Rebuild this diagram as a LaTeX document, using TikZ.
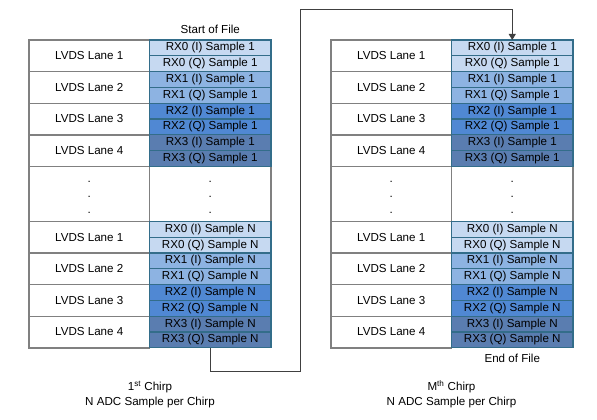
\documentclass[tikz,border=0pt]{standalone}
\usepackage{fontspec}
\setmainfont{Liberation Sans}
\usetikzlibrary{arrows.meta}
\definecolor{c0}{HTML}{C6D9F1}
\definecolor{c1}{HTML}{8DB3E2}
\definecolor{c2}{HTML}{5088D3}
\definecolor{c3}{HTML}{5A7DB0}
\definecolor{cellborder}{HTML}{336D8A}
\definecolor{laneborder}{HTML}{808080}
\definecolor{wire}{HTML}{404040}
\newcommand\lanegroup[4]{%
  \foreach \k/\col in {0/c0,1/c1,2/c2,3/c3}{
    \pgfmathsetmacro\yy{#3+\k*31.6}
    \pgfmathtruncatemacro\ln{\k+1}
    \node[lanebox] (#1lane\k) at (#2,\yy) {LVDS Lane \ln};
    \node[samplebox, fill=\col] (#1rx\k I) at (#2+120.5,\yy) {RX\k{} (I) Sample #4};
    \node[samplebox, fill=\col] (#1rx\k Q) at (#2+120.5,\yy+15.8) {RX\k{} (Q) Sample #4};
  }}
\begin{document}
\begin{tikzpicture}[x=1pt,y=-1pt,
  font=\fontsize{11.6}{13.8}\selectfont,
  lanebox/.style={draw=laneborder, fill=white, line width=1.4pt, minimum width=120.5pt,
    minimum height=31.6pt, inner sep=0pt, outer sep=0pt, anchor=north west},
  samplebox/.style={draw=cellborder, line width=1.2pt, minimum width=121.5pt,
    minimum height=15.8pt, inner sep=0pt, outer sep=0pt, anchor=north west},
  dotbox/.style={draw=laneborder, fill=white, line width=1.4pt, minimum height=55pt,
    inner sep=0pt, outer sep=0pt, anchor=north west},
  dot/.style={anchor=base, inner sep=0pt},
  label/.style={align=center, font=\fontsize{11.6}{15}\selectfont},
  wireline/.style={draw=wire, line width=1pt}]
\useasboundingbox (0,0) rectangle (597,420);

% dots rows (drawn first so cell borders lie on top)
\node[dotbox, minimum width=120.5pt] (Adl) at (29,166.4) {};
\node[dotbox, minimum width=121.5pt] (Adr) at (149.5,166.4) {};
\node[dotbox, minimum width=120.5pt] (Bdl) at (331,166.4) {};
\node[dotbox, minimum width=121.5pt] (Bdr) at (451.5,166.4) {};

% left table (1st chirp)
\lanegroup{A}{29}{40}{1}
\lanegroup{AN}{29}{221.4}{N}

% right table (Mth chirp)
\lanegroup{B}{331}{40}{1}
\lanegroup{BN}{331}{221.4}{N}

% dots
\foreach \n/\xx in {Al/89.25, Ar/210.25, Bl/391.25, Br/512.25}{
  \node[dot] (\n d1) at (\xx,182) {.};
  \node[dot] (\n d2) at (\xx,197.5) {.};
  \node[dot] (\n d3) at (\xx,213) {.};
}

% labels
\node (start) at (210.25,29) {Start of File};
\node (end) at (512.25,358.5) {End of File};
\node[label] (chirpA) at (150,394.5) {1\textsuperscript{st} Chirp\\N ADC Sample per Chirp};
\node[label] (chirpB) at (451.5,394.5) {M\textsuperscript{th} Chirp\\N ADC Sample per Chirp};

% connector
\coordinate (t1) at (300.7,371);
\coordinate (t2) at (300.7,9.3);
\draw[wireline, -{Triangle[length=6pt,width=7pt]}]
  (ANrx3Q.south) |- (t1) -- (t2) -| (Brx0I.north);
\end{tikzpicture}
\end{document}
